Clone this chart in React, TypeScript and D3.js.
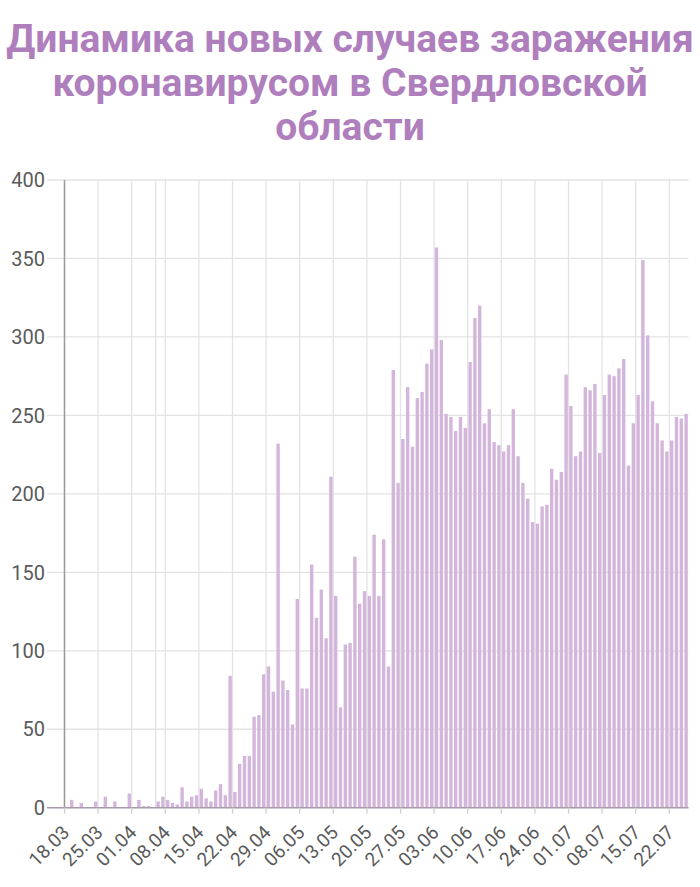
import React from "react";
import * as d3 from "d3";

const titleLines = [
  "Динамика новых случаев заражения",
  "коронавирусом в Свердловской",
  "области",
];

const startDate = new Date(2020, 2, 18);
const endDate = new Date(2020, 6, 26);

const newCases = [
  0, 5, 0, 3, 0, 0, 4, 0, 7, 0,
  4, 0, 0, 9, 0, 5, 1, 1, 0, 4,
  7, 5, 3, 2, 13, 4, 7, 8, 12, 6,
  4, 11, 15, 8, 84, 10, 28, 33, 33, 58,
  59, 85, 90, 74, 232, 81, 75, 53, 133, 76,
  76, 155, 121, 139, 108, 211, 135, 64, 104, 105,
  160, 130, 138, 135, 174, 135, 171, 90, 279, 207,
  235, 268, 230, 261, 265, 283, 292, 357, 298, 251,
  249, 240, 249, 242, 284, 312, 320, 245, 254, 233,
  231, 227, 231, 254, 224, 207, 197, 182, 181, 192,
  193, 216, 209, 214, 276, 256, 224, 227, 268, 266,
  270, 226, 263, 276, 275, 280, 286, 218, 245, 263,
  349, 301, 259, 245, 234, 227, 234, 249, 248, 251,
];

const xTickLabels = [
  "18.03", "25.03", "01.04", "08.04", "15.04", "22.04", "29.04",
  "06.05", "13.05", "20.05", "27.05", "03.06", "10.06", "17.06",
  "24.06", "01.07", "08.07", "15.07", "22.07",
];
const extraGridLabels = ["06.04"];
const yTicks = [0, 50, 100, 150, 200, 250, 300, 350, 400];

const parseLabel = (s: string) => {
  const [dd, mm] = s.split(".").map(Number);
  return new Date(2020, mm - 1, dd);
};

export default function App() {
  const W = 700;
  const H = 887;
  const left = 64.5;
  const right = 688.5;
  const top = 180;
  const bottom = 807.7;

  const days = d3.timeDay.range(startDate, d3.timeDay.offset(startDate, newCases.length));
  const x = d3.scaleTime().domain([startDate, endDate]).range([left, right]);
  const band = d3
    .scaleBand<number>()
    .domain(d3.range(newCases.length))
    .range([left, right])
    .paddingInner(0.3)
    .paddingOuter(0.15);
  const y = d3.scaleLinear().domain([0, 400]).range([bottom, top]);

  const gridColor = "#e3e3e3";
  const labelColor = "#5a5a5a";

  return (
    <svg
      width={W}
      height={H}
      style={{ position: "absolute", left: 0, top: 0, background: "#fff" }}
      fontFamily="Roboto, 'Noto Sans', sans-serif"
    >
      {titleLines.map((t, i) => (
        <text
          key={t}
          x={W / 2}
          y={52 + i * 44}
          textAnchor="middle"
          fontSize={39}
          fontWeight={700}
          fill="#af7ebd"
        >
          {t}
        </text>
      ))}

      {/* horizontal grid */}
      {yTicks.map((t) => (
        <g key={t}>
          <line x1={47} x2={right} y1={y(t)} y2={y(t)} stroke={gridColor} strokeWidth={1.3} />
          <text
            x={45}
            y={y(t)}
            dy="0.36em"
            textAnchor="end"
            fontSize={20}
            fill={labelColor}
          >
            {t}
          </text>
        </g>
      ))}

      {/* vertical grid */}
      {[...xTickLabels, ...extraGridLabels].map((s) => {
        const xx = x(parseLabel(s));
        return (
          <line key={"g" + s} x1={xx} x2={xx} y1={top} y2={bottom} stroke={gridColor} strokeWidth={1.3} />
        );
      })}

      {/* bars */}
      {newCases.map((v, i) => (
        <rect
          key={i}
          x={band(i)}
          width={band.bandwidth()}
          y={y(v)}
          height={bottom - y(v)}
          fill="#d4b5db"
        >
          <title>{d3.timeFormat("%d.%m")(days[i]) + ": " + v}</title>
        </rect>
      ))}

      {/* axes */}
      <line x1={left} x2={left} y1={top} y2={bottom} stroke="#9a9a9a" strokeWidth={1.5} />
      <line x1={47} x2={right} y1={bottom} y2={bottom} stroke="#a89aab" strokeWidth={1.5} />

      {xTickLabels.map((s) => {
        const xx = x(parseLabel(s));
        return (
          <g key={"t" + s}>
            <line x1={xx} x2={xx} y1={bottom} y2={bottom + 6} stroke="#d0d0d0" strokeWidth={1.3} />
            <text
              transform={`translate(${xx + 6},${bottom + 26}) rotate(-45)`}
              textAnchor="end"
              fontSize={19}
              fill={labelColor}
            >
              {s}
            </text>
          </g>
        );
      })}
    </svg>
  );
}
